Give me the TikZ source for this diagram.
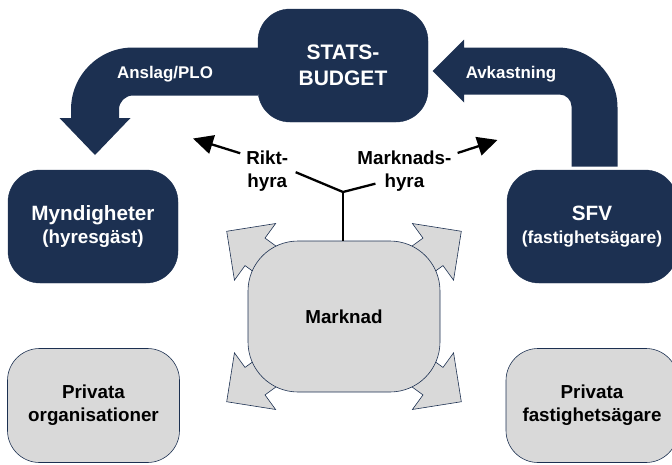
\documentclass[tikz,border=0pt]{standalone}
\usepackage{fontspec}
\setmainfont{Liberation Sans}
\usetikzlibrary{arrows.meta,positioning}

\definecolor{navy}{RGB}{28,48,81}
\definecolor{boxgray}{RGB}{217,217,217}

\tikzset{
  dark/.style={rectangle, rounded corners=32pt, fill=navy, draw=navy, text=white,
    minimum width=170pt, minimum height=113pt, align=center,
    font=\bfseries\fontsize{20.7}{23.3}\selectfont},
  light/.style={rectangle, rounded corners=32pt, fill=boxgray, draw=navy, line width=0.6pt,
    minimum width=172pt, minimum height=114pt, align=center,
    font=\bfseries\fontsize{18.8}{22.7}\selectfont},
  lbl/.style={font=\bfseries\fontsize{18.8}{23}\selectfont, inner xsep=6pt, inner ysep=2pt,
    text height=14pt, text depth=5pt},
  flow/.style={font=\bfseries\fontsize{16.9}{20}\selectfont, text=white},
  pointer/.style={line width=2.3pt, -{Triangle[length=20pt,width=19pt]}},
  stem/.style={line width=2.3pt},
  spread/.style={fill=boxgray, draw=navy, line width=0.6pt}
}

\begin{document}
\begin{tikzpicture}[x=1pt,y=-1pt]
\useasboundingbox (0,0) rectangle (672,464);

% top and side boxes
\node[dark, font=\bfseries\fontsize{21}{25.6}\selectfont] (budget) at (343,65.5) {STATS-\\BUDGET};
\node[dark] (myndig) at (93,226.5) {Myndigheter\\{\fontsize{18.8}{23.3}\selectfont(hyresgäst)}};
\node[dark] (sfv) at (592,226.5) {SFV\\{\fontsize{17.4}{22}\selectfont(fastighetsägare)}};
\node[light] (privorg) at (93.5,405.5) {Privata\\organisationer};
\node[light] (privfast) at (592,405.5) {Privata\\fastighetsägare};

% money flows
\fill[navy] (258,71.5) -- (258,47.5) [rounded corners=62pt] -- (71,47.5) [sharp corners]
  -- (71,118) -- (59.5,118) -- (95,155) -- (130.5,118) -- (119,118) [rounded corners=14pt]
  -- (119,95.5) [sharp corners] -- (258,95.5) -- cycle;
\fill[navy] (594.5,166.5) -- (617.5,166.5) [rounded corners=60pt] -- (617.5,47.5) [sharp corners]
  -- (464,47.5) -- (464,39.5) -- (432.5,71) -- (464,102.5) -- (464,94.5) [rounded corners=12pt]
  -- (571.5,94.5) [sharp corners] -- (571.5,166.5) -- cycle;
\node[flow] (anslag) at (165,74) {Anslag/PLO};
\node[flow] (avkast) at (511,74) {Avkastning};

% market with its four outward arrows
\coordinate (mc) at (344,316.5);
\foreach \a in {36,144,216,324}
  \filldraw[spread, shift={(mc)}, rotate=\a] (0,17) -- (110,17) -- (110,35) -- (145,0)
    -- (110,-35) -- (110,-17) -- (0,-17) -- cycle;
\node[light, minimum width=192pt, minimum height=151pt, rounded corners=50pt] (marknad) at (mc) {Marknad};

% rents
\node[lbl] (riktA) at (267.3,159.5) {Rikt-};
\node[lbl, below=0pt of riktA] (riktB) {hyra};
\node[lbl] (markA) at (404.4,159.5) {Marknads-};
\node[lbl, below=0pt of markA] (markB) {hyra};

\coordinate (junction) at (343,192);
\coordinate (riktTip) at (193,138.5);
\coordinate (markTip) at (497.5,140);

\draw[pointer] (riktA.167) -- (riktTip);
\draw[pointer] (markA.7) -- (markTip);
\draw[stem, shorten <=2.5pt] (riktB.north east) -- (junction);
\draw[stem, shorten <=3pt] (markB.west) -- (junction);
\draw[stem] (junction) -- (junction |- marknad.north);
\end{tikzpicture}
\end{document}
